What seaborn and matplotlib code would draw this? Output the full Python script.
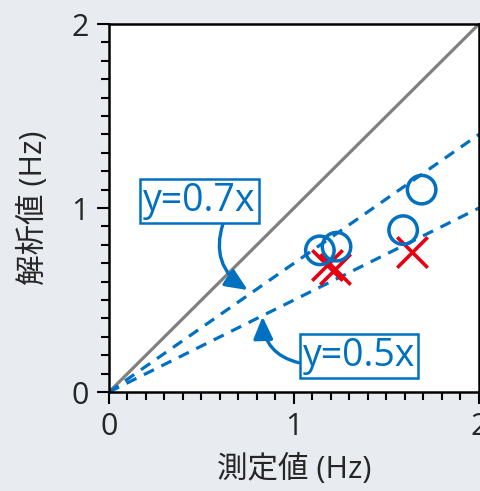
import numpy as np
import pandas as pd
import matplotlib
matplotlib.use("Agg")
import matplotlib.pyplot as plt
from matplotlib.ticker import MultipleLocator
import seaborn as sns

# measured vs analysed frequency (Hz)
circle_x = [1.14, 1.23, 1.59, 1.69]
circle_y = [0.77, 0.79, 0.88, 1.10]
cross_x = [1.18, 1.22, 1.64]
cross_y = [0.69, 0.67, 0.76]
ref_x = [0, 2]
slopes = [0.7, 0.5]

blue = '#0070c0'
red = '#e60012'
bg = '#e8ebf0'

sns.set_style("ticks")
plt.rcParams['font.family'] = ['Open Sans', 'Noto Sans CJK JP', 'DejaVu Sans']

fig = plt.figure(figsize=(4.81, 4.91), dpi=100, facecolor=bg)
ax = fig.add_axes([0.2266, 0.2016, 0.7692, 0.7494])
ax.set_facecolor('white')

# y = x reference
sns.lineplot(x=ref_x, y=ref_x, color='#808080', lw=2.3, ax=ax)
for s in slopes:
    sns.lineplot(x=ref_x, y=[v * s for v in ref_x], color=blue, lw=2.3,
                 ax=ax, dashes=False, linestyle=(0, (3.5, 2.6)))

sns.scatterplot(x=cross_x, y=cross_y, marker='x', s=480, color=red,
                linewidth=2.6, ax=ax, zorder=3)
sns.scatterplot(x=circle_x, y=circle_y, marker='o', s=420, facecolors='none',
                edgecolor=blue, linewidth=2.5, ax=ax, zorder=4)

box = dict(boxstyle='square,pad=0.08', fc='white', ec=blue, lw=1.8)
head = '-|>,head_length=0.5,head_width=0.22'
ax.annotate('y=0.7x', xy=(0.75, 0.554), xytext=(0.49, 1.04), color=blue,
            fontsize=27, ha='center', va='center', bbox=box,
            arrowprops=dict(arrowstyle=head, color=blue, lw=2.4, relpos=(0.72, 0),
                            connectionstyle='arc3,rad=0.4', shrinkA=0, shrinkB=0))
ax.annotate('y=0.5x', xy=(0.83, 0.41), xytext=(1.35, 0.196), color=blue,
            fontsize=27, ha='center', va='center', bbox=box,
            arrowprops=dict(arrowstyle=head, color=blue, lw=2.4, relpos=(0, 0.3),
                            connectionstyle='arc3,rad=-0.4', shrinkA=0, shrinkB=0))

ax.set_xlim(0, 2)
ax.set_ylim(0, 2)
ax.xaxis.set_major_locator(MultipleLocator(1))
ax.yaxis.set_major_locator(MultipleLocator(1))
ax.xaxis.set_minor_locator(MultipleLocator(0.1))
ax.yaxis.set_minor_locator(MultipleLocator(0.1))
ax.tick_params(which='major', direction='out', length=8.6, width=1.5,
               labelsize=22, pad=6, color='black')
ax.tick_params(which='minor', direction='out', length=5.8, width=1.5, color='black')
for sp in ax.spines.values():
    sp.set_visible(True)
    sp.set_color('black')
    sp.set_linewidth(1.8)

ax.set_xlabel('測定値 (Hz)', fontsize=22, labelpad=8)
ax.set_ylabel('解析値 (Hz)', fontsize=22, labelpad=16)

fig.savefig('out.png', dpi=100, facecolor=bg)
